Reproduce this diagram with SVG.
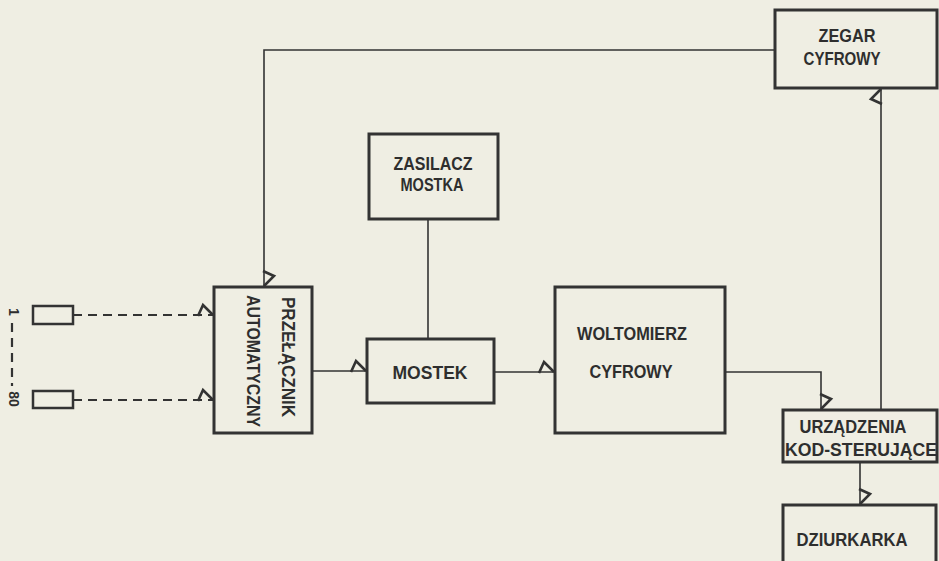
<svg xmlns="http://www.w3.org/2000/svg" width="939" height="561" viewBox="0 0 939 561">
<style>
.box{fill:none;stroke:#333;stroke-width:3}
.ln{fill:none;stroke:#333;stroke-width:1.6}
.dash{fill:none;stroke:#333;stroke-width:2.2;stroke-dasharray:9 6}
.t{font-family:"Liberation Sans","DejaVu Sans",sans-serif;font-weight:bold;font-size:18px;fill:#2e2e2e;text-anchor:middle}
.s{font-family:"Liberation Sans","DejaVu Sans",sans-serif;font-weight:bold;font-size:14px;fill:#2e2e2e;text-anchor:middle}
</style>
<defs>
<marker id="z" viewBox="-20 -14 22 18" refX="0" refY="0" markerWidth="22" markerHeight="18" markerUnits="userSpaceOnUse" orient="auto">
<path d="M-16,1 L-11,-10 L-1,0" fill="none" stroke="#333" stroke-width="2.6" stroke-linejoin="miter"/>
</marker>
</defs>
<rect width="939" height="561" fill="#efeee3"/>
<g id="connectors">
<path class="ln" d="M775,50 H264 V287" marker-end="url(#z)"/>
<path class="dash" d="M73,315 H214" marker-end="url(#z)"/>
<path class="dash" d="M73,400 H214" marker-end="url(#z)"/>
<path class="dash" d="M12,323 V386"/>
<path class="ln" d="M312,371 H367" marker-end="url(#z)"/>
<path class="ln" d="M428,219 V339"/>
<path class="ln" d="M494,372 H555" marker-end="url(#z)"/>
<path class="ln" d="M725,372 H821 V410" marker-end="url(#z)"/>
<path class="ln" d="M881,410 V88" marker-end="url(#z)"/>
<path class="ln" d="M860,462 V505" marker-end="url(#z)"/>
</g>
<g id="zegar">
<rect class="box" x="775" y="10" width="162" height="78"/>
<text class="t" x="847" y="42" textLength="57" lengthAdjust="spacingAndGlyphs">ZEGAR</text>
<text class="t" x="842" y="65" textLength="77" lengthAdjust="spacingAndGlyphs">CYFROWY</text>
</g>
<g id="zasilacz">
<rect class="box" x="369" y="134" width="129" height="85"/>
<text class="t" x="433" y="170" textLength="79" lengthAdjust="spacingAndGlyphs">ZASILACZ</text>
<text class="t" x="432" y="191" textLength="63" lengthAdjust="spacingAndGlyphs">MOSTKA</text>
</g>
<g id="przelacznik">
<rect class="box" x="214" y="287" width="98" height="146"/>
<text class="t" transform="translate(282,357) rotate(90)" x="0" y="0" textLength="120" lengthAdjust="spacingAndGlyphs">PRZEŁĄCZNIK</text>
<text class="t" transform="translate(247,361) rotate(90)" x="0" y="0" textLength="132" lengthAdjust="spacingAndGlyphs">AUTOMATYCZNY</text>
</g>
<g id="mostek">
<rect class="box" x="367" y="339" width="127" height="64"/>
<text class="t" x="430" y="379" textLength="75" lengthAdjust="spacingAndGlyphs">MOSTEK</text>
</g>
<g id="woltomierz">
<rect class="box" x="555" y="287" width="170" height="146"/>
<text class="t" x="632" y="340" textLength="110" lengthAdjust="spacingAndGlyphs">WOLTOMIERZ</text>
<text class="t" x="631" y="378" textLength="83" lengthAdjust="spacingAndGlyphs">CYFROWY</text>
</g>
<g id="urzadzenia">
<rect class="box" x="783" y="410" width="154" height="52"/>
<text class="t" x="853" y="433" textLength="107" lengthAdjust="spacingAndGlyphs">URZĄDZENIA</text>
<text class="t" x="861" y="456" textLength="152" lengthAdjust="spacingAndGlyphs">KOD-STERUJĄCE</text>
</g>
<g id="dziurkarka">
<rect class="box" x="783" y="505" width="153" height="70"/>
<text class="t" x="852" y="546" textLength="111" lengthAdjust="spacingAndGlyphs">DZIURKARKA</text>
</g>
<g id="czujnik1">
<rect class="box" x="33" y="306" width="40" height="18" style="stroke-width:2.5"/>
<text class="s" transform="translate(9,312) rotate(90)" x="0" y="0">1</text>
</g>
<g id="czujnik80">
<rect class="box" x="33" y="391" width="40" height="17" style="stroke-width:2.5"/>
<text class="s" transform="translate(9,399) rotate(90)" x="0" y="0">80</text>
</g>
</svg>
